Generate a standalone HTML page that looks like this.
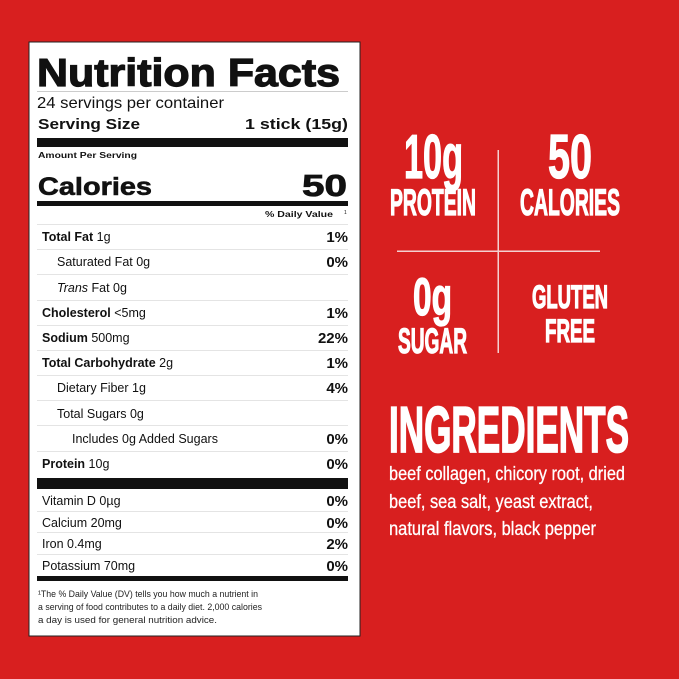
<!DOCTYPE html>
<html><head><meta charset="utf-8"><style>
html,body{margin:0;padding:0;background:#d81f1f;}
svg{display:block}
</style></head><body>
<svg width="679" height="679" viewBox="0 0 679 679" xmlns="http://www.w3.org/2000/svg" font-family="Liberation Sans, sans-serif">
<rect width="679" height="679" fill="#d81f1f"/>
<rect x="29" y="42" width="331" height="594" fill="#fff" stroke="#222" stroke-width="1"/>
<g fill="#111">
<text x="37" y="86" font-size="39" font-weight="bold" stroke="#111" stroke-width="1.2" textLength="303" lengthAdjust="spacingAndGlyphs">Nutrition Facts</text>
<rect x="37" y="91" width="311" height="1" fill="#ccc"/>
<text x="37" y="108" font-size="16" textLength="187" lengthAdjust="spacingAndGlyphs">24 servings per container</text>
<text x="38" y="129" font-size="15" font-weight="bold" textLength="102" lengthAdjust="spacingAndGlyphs">Serving Size</text>
<text x="245" y="129" font-size="15" font-weight="bold" textLength="103" lengthAdjust="spacingAndGlyphs">1 stick (15g)</text>
<rect x="37" y="138" width="311" height="9"/>
<text x="38" y="158" font-size="8" font-weight="bold" textLength="99" lengthAdjust="spacingAndGlyphs">Amount Per Serving</text>
<text x="38" y="195" font-size="25" font-weight="bold" stroke="#111" stroke-width="0.6" textLength="114" lengthAdjust="spacingAndGlyphs">Calories</text>
<text x="302" y="196" font-size="31" font-weight="bold" stroke="#111" stroke-width="0.8" textLength="45" lengthAdjust="spacingAndGlyphs">50</text>
<rect x="37" y="201" width="311" height="5"/>
<text x="265" y="217" font-size="8" font-weight="bold" textLength="68" lengthAdjust="spacingAndGlyphs">% Daily Value</text>
<text x="344" y="214" font-size="5">1</text>
<g fill="#e4e4e4">
<rect x="37" y="224" width="311" height="1"/>
<rect x="37" y="249" width="311" height="1"/>
<rect x="37" y="274" width="311" height="1"/>
<rect x="37" y="300" width="311" height="1"/>
<rect x="37" y="325" width="311" height="1"/>
<rect x="37" y="350" width="311" height="1"/>
<rect x="37" y="375" width="311" height="1"/>
<rect x="37" y="400" width="311" height="1"/>
<rect x="37" y="425" width="311" height="1"/>
<rect x="37" y="451" width="311" height="1"/>
<rect x="37" y="511" width="311" height="1"/>
<rect x="37" y="532" width="311" height="1"/>
<rect x="37" y="554" width="311" height="1"/>
</g>
<g font-size="12.5">
<text x="42" y="241"><tspan font-weight="bold">Total Fat</tspan>  1g</text>
<text x="57" y="266">Saturated Fat  0g</text>
<text x="57" y="292"><tspan font-style="italic">Trans</tspan> Fat  0g</text>
<text x="42" y="317"><tspan font-weight="bold">Cholesterol</tspan>  &lt;5mg</text>
<text x="42" y="342"><tspan font-weight="bold">Sodium</tspan>  500mg</text>
<text x="42" y="367"><tspan font-weight="bold">Total Carbohydrate</tspan>  2g</text>
<text x="57" y="392">Dietary Fiber  1g</text>
<text x="57" y="418">Total Sugars  0g</text>
<text x="72" y="443">Includes 0g Added Sugars</text>
<text x="42" y="468"><tspan font-weight="bold">Protein</tspan>  10g</text>
<text x="42" y="505">Vitamin D  0µg</text>
<text x="42" y="527">Calcium  20mg</text>
<text x="42" y="548">Iron  0.4mg</text>
<text x="42" y="570">Potassium 70mg</text>
</g>
<g font-size="15" font-weight="bold" text-anchor="end">
<text x="348" y="242">1%</text>
<text x="348" y="267">0%</text>
<text x="348" y="318">1%</text>
<text x="348" y="343">22%</text>
<text x="348" y="368">1%</text>
<text x="348" y="393">4%</text>
<text x="348" y="444">0%</text>
<text x="348" y="469">0%</text>
<text x="348" y="506">0%</text>
<text x="348" y="528">0%</text>
<text x="348" y="549">2%</text>
<text x="348" y="571">0%</text>
</g>
<rect x="37" y="478" width="311" height="11"/>
<rect x="37" y="576" width="311" height="5"/>
<g font-size="9.5" fill="#222">
<text x="38" y="597" textLength="220" lengthAdjust="spacingAndGlyphs">¹The % Daily Value (DV) tells you how much a nutrient in</text>
<text x="38" y="610" textLength="224" lengthAdjust="spacingAndGlyphs">a serving of food contributes to a daily diet. 2,000 calories</text>
<text x="38" y="623" textLength="179" lengthAdjust="spacingAndGlyphs">a day is used for general nutrition advice.</text>
</g>
</g>
<g fill="#fff" font-weight="bold" stroke="#fff" stroke-width="1.3">
<text x="404" y="178" font-size="62" textLength="59" lengthAdjust="spacingAndGlyphs">10g</text>
<text x="548" y="178" font-size="62" textLength="44" lengthAdjust="spacingAndGlyphs">50</text>
<text x="390" y="215" font-size="37" textLength="86" lengthAdjust="spacingAndGlyphs">PROTEIN</text>
<text x="520" y="215" font-size="37" textLength="100" lengthAdjust="spacingAndGlyphs">CALORIES</text>
<text x="413" y="315" font-size="53" textLength="39" lengthAdjust="spacingAndGlyphs">0g</text>
<text x="398" y="353" font-size="35" textLength="69" lengthAdjust="spacingAndGlyphs">SUGAR</text>
<text x="532" y="308" font-size="32" textLength="76" lengthAdjust="spacingAndGlyphs">GLUTEN</text>
<text x="545" y="342" font-size="32" textLength="50" lengthAdjust="spacingAndGlyphs">FREE</text>
<text x="389" y="452" font-size="65" stroke-width="1.8" textLength="240" lengthAdjust="spacingAndGlyphs">INGREDIENTS</text>
</g>
<rect x="497.5" y="150" width="1.5" height="203" fill="#f3d0d0"/>
<rect x="397" y="250.5" width="203" height="1.5" fill="#f3d0d0"/>
<g fill="#fff" font-size="19" stroke="#fff" stroke-width="0.3">
<text x="389" y="480" textLength="236" lengthAdjust="spacingAndGlyphs">beef collagen, chicory root, dried</text>
<text x="389" y="508" textLength="204" lengthAdjust="spacingAndGlyphs">beef, sea salt, yeast extract,</text>
<text x="389" y="535" textLength="207" lengthAdjust="spacingAndGlyphs">natural flavors, black pepper</text>
</g>
</svg>
</body></html>
